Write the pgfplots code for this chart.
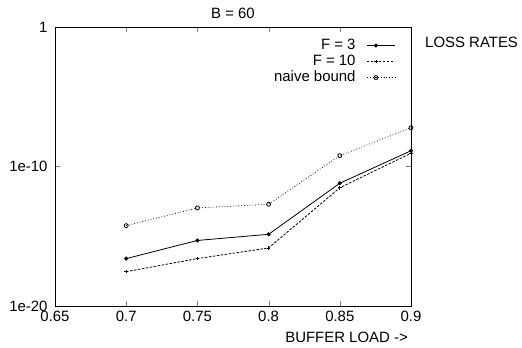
\documentclass[border=0pt]{standalone}
\usepackage{fontspec}
\setmainfont{Liberation Sans}
\usepackage{pgfplots}
\pgfplotsset{compat=1.18}
\begin{document}
\begin{tikzpicture}
\useasboundingbox (-55bp,-42bp) rectangle (467bp,306bp);
\begin{axis}[
  scale only axis, width=356bp, height=279bp,
  ymode=log, xmin=0.65, xmax=0.9, ymin=1e-20, ymax=1,
  xtick={0.65,0.7,0.75,0.8,0.85,0.9},
  xticklabels={0.65,0.7,0.75,0.8,0.85,0.9},
  ytick={1e-20,1e-10,1}, yticklabels={1e-20,1e-10,1},
  yminorticks=false, xminorticks=false,
  /pgf/number format/assume math mode=true,
  tick align=inside, major tick length=5bp,
  tick label style={font=\fontsize{15}{17}\selectfont},
  yticklabel style={xshift=-4bp},
  xticklabel style={yshift=-2bp},
  every axis plot/.append style={line width=0.8bp, black},
  axis line style={line width=0.9bp},
  legend style={at={(rel axis cs:0.965,0.97)}, anchor=north east, draw=none, fill=none,
    legend cell align=right, font=\fontsize{15}{17}\selectfont,
    nodes={inner sep=1bp, text height=11bp, text depth=3bp}},
  legend plot pos=right,
  legend image code/.code={\path (0bp,0bp); \draw[mark repeat=2,mark phase=2,#1] plot coordinates {(10bp,0bp)(19bp,0bp)(38bp,0bp)};},
  clip=false,
]
\addplot[solid, mark=*, mark size=1.6bp] coordinates {
 (0.7,2.5e-17) (0.75,5.0e-16) (0.8,1.38e-15) (0.85,6.3e-12) (0.9,1.35e-9)};
\addlegendentry{F = 3}
\addplot[dashed, dash pattern=on 2.5bp off 1.5bp, mark=+, mark size=1.8bp, mark options={solid}] coordinates {
 (0.7,2.9e-18) (0.75,2.5e-17) (0.8,1.45e-16) (0.85,3.0e-12) (0.9,8.9e-10)};
\addlegendentry{F = 10}
\addplot[dotted, line width=0.7bp, mark=o, mark size=2bp, mark options={solid, line width=0.8bp}] coordinates {
 (0.7,5.75e-15) (0.75,1.07e-13) (0.8,1.95e-13) (0.85,6.0e-10) (0.9,6.0e-8)};
\addlegendentry{naive bound}
\end{axis}
\node[font=\fontsize{15}{17}\selectfont] at (178bp,293bp) {B = 60};
\node[anchor=west, font=\fontsize{15}{17}\selectfont, inner sep=0pt] at (370bp,264bp) {LOSS RATES};
\node[anchor=east, font=\fontsize{15}{17}\selectfont, inner sep=0pt] at (353bp,-31bp) {BUFFER LOAD ->};
\end{tikzpicture}
\end{document}
